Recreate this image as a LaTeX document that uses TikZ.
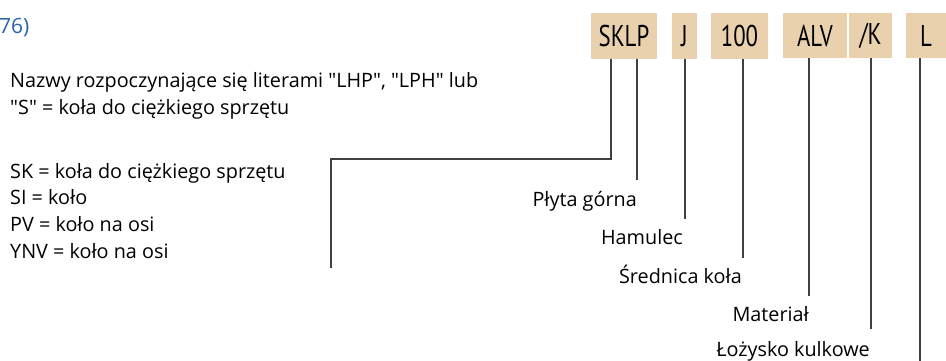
\documentclass[tikz,border=0pt]{standalone}
\usepackage{fontspec}
\setmainfont{Open Sans}
\newfontfamily\codefont[FakeStretch=0.76]{PT Sans}
\usetikzlibrary{calc,positioning}
\definecolor{boxtan}{RGB}{233,209,174}
\definecolor{numblue}{RGB}{40,100,170}

\begin{document}
\begin{tikzpicture}[x=1pt,y=-1pt,
  code/.style={fill=boxtan,inner sep=0pt,minimum height=46pt,font=\codefont\fontsize{30}{30}\selectfont},
  lead/.style={draw=black!75,line width=1.3pt},
  lbl/.style={inner sep=0pt,anchor=base east,font=\fontsize{19.8}{22}\selectfont},
  txt/.style={inner sep=0pt,anchor=base west,font=\fontsize{19.8}{22}\selectfont}]
  \useasboundingbox (0,0) rectangle (946,360);
  \node[code,minimum width=66pt] (SKLP) at (624,36) {SKLP};
  \node[code,minimum width=25pt] (J) at (684.5,36) {J};
  \node[code,minimum width=57pt] (D) at (739.5,36) {100};
  \node[code,minimum width=64pt,minimum height=45pt] (ALV) at (815,35.5) {ALV};
  \node[code,minimum width=43pt,minimum height=45pt] (K) at (870.5,35.5) {/K};
  \node[code,minimum width=40pt,minimum height=45pt] (L) at (926,35.5) {L};
  \coordinate (c1) at (611,159);
  \coordinate (c2) at (331,159);
  \coordinate (e0) at (331,268);
  \coordinate (e1) at (637,180);
  \coordinate (e2) at (685,219);
  \coordinate (e3) at (743,258);
  \coordinate (e4) at (809,296);
  \coordinate (e5) at (871,329);
  \coordinate (e6) at (920,362);
  \draw[lead] ([xshift=-13pt]SKLP.south) -- (c1) -- (c2) -- (e0);
  \draw[lead] ([xshift=13pt]SKLP.south) -- (e1);
  \draw[lead] (J.south -| e2) -- (e2);
  \draw[lead] (D.south -| e3) -- (e3);
  \draw[lead] (ALV.south -| e4) -- (e4);
  \draw[lead] (K.south -| e5) -- (e5);
  \draw[lead] (L.south -| e6) -- (e6);
  \node[lbl] (plyta) at ($(e1)+(0,26)$) {Płyta górna};
  \node[lbl] (hamulec) at ($(e2)+(-2,25)$) {Hamulec};
  \node[lbl] (srednica) at ($(e3)+(-1,25)$) {Średnica koła};
  \node[lbl] (material) at ($(e4)+(0,25)$) {Materiał};
  \node[lbl] (lozysko) at ($(e5)+(-1,27)$) {Łożysko kulkowe};
  \node[txt,text=numblue,font=\fontsize{21}{21}\selectfont] (nr) at (-1,33) {76)};
  \node[txt] (nazwy1) at (10,87) {Nazwy rozpoczynające się literami \textquotedbl LHP\textquotedbl, \textquotedbl LPH\textquotedbl\ lub};
  \node[txt] (nazwy2) at (10,114) {\textquotedbl S\textquotedbl\ = koła do ciężkiego sprzętu};
  \node[txt] (sk) at (10,178) {SK = koła do ciężkiego sprzętu};
  \node[txt] (si) at (10,204) {SI = koło};
  \node[txt] (pv) at (10,231) {PV = koło na osi};
  \node[txt] (ynv) at (10,258) {YNV = koło na osi};
\end{tikzpicture}
\end{document}
